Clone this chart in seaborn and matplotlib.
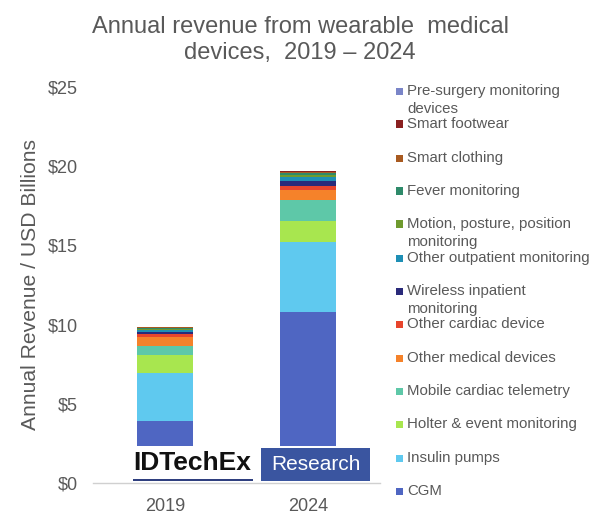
import numpy as np
import matplotlib
matplotlib.use('Agg')
import matplotlib.pyplot as plt
import matplotlib.patches as patches
import seaborn as sns

years = ['2019', '2024']

# bottom of the stack first
series = ['CGM', 'Insulin pumps', 'Holter & event monitoring', 'Mobile cardiac telemetry',
          'Other medical devices', 'Other cardiac device', 'Wireless inpatient\nmonitoring',
          'Other outpatient monitoring', 'Motion, posture, position\nmonitoring', 'Fever monitoring',
          'Smart clothing', 'Smart footwear', 'Pre-surgery monitoring\ndevices']
values_2019 = [3.91, 3.03, 1.14, 0.57, 0.55, 0.20, 0.13, 0.10, 0.07, 0.07, 0.05, 0.03, 0.02]
values_2024 = [10.80, 4.43, 1.33, 1.31, 0.63, 0.27, 0.31, 0.26, 0.11, 0.10, 0.07, 0.06, 0.02]
colours = ['#4f66c2', '#5fc9ef', '#a8e64f', '#5ec8a8', '#f5822a', '#e8452c', '#2a2a7a',
           '#1e8fb5', '#6f9a2e', '#2e8a6a', '#a85a20', '#8a2020', '#7a85c8']
yticks = [0, 5, 10, 15, 20, 25]

W, H = 600, 524
GREY = '#595959'

sns.set_style('white')
plt.rcParams['font.family'] = ['Liberation Sans', 'DejaVu Sans']

fig = plt.figure(figsize=(W/100, H/100), dpi=100)
ax = fig.add_axes([93.5/W, (H-483)/H, 286/W, 396/H])

bottom = np.zeros(2)
for i in range(len(series)):
    vals = np.array([values_2019[i], values_2024[i]])
    sns.barplot(x=years, y=vals, bottom=bottom, color=colours[i], width=0.39,
                saturation=1, linewidth=0, ax=ax)
    bottom = bottom+vals

ax.set_xlim(-0.5, 1.5)
ax.set_ylim(0, 25)
ax.set_yticks(yticks)
ax.set_yticklabels(['${}'.format(t) for t in yticks], fontsize=13, color=GREY)
ax.tick_params(axis='y', length=0, pad=11)
ax.tick_params(axis='x', length=0, pad=11, labelsize=13, labelcolor=GREY)
ax.set_ylabel('')
for s in ['top', 'left', 'right']:
    ax.spines[s].set_visible(False)
ax.spines['bottom'].set_color('#d0d0d0')
ax.spines['bottom'].set_linewidth(1)

fig.text(300/W, 1-40/H, 'Annual revenue from wearable  medical\ndevices,  2019 – 2024', ha='center', va='center',
         fontsize=17, color=GREY, linespacing=1.28)
fig.text(31/W, 1-284/H, 'Annual Revenue / USD Billions', rotation=90, ha='center', va='center',
         fontsize=15.2, color=GREY)

# legend drawn by hand, the wrapped entries overlap the next slot in the original
legend_y = [91, 124, 158, 191, 224, 258, 291, 324, 358, 391, 424, 458, 491]
for name, col, y in zip(series[::-1], colours[::-1], legend_y):
    fig.add_artist(patches.Rectangle((396/W, 1-(y+3.5)/H), 7/W, 7/H, transform=fig.transFigure,
                                     facecolor=col, edgecolor='none'))
    fig.text(407/W, 1-(y-7)/H, name, ha='left', va='top', fontsize=10.8, color=GREY, linespacing=1.32)

# logo sits on top of the bar bottoms, under the axis line
ax.add_patch(patches.Rectangle((125/W, 1-484/H), 250/W, 38/H, transform=fig.transFigure,
                               facecolor='white', edgecolor='none', zorder=2.2, clip_on=False))
fig.text(192.5/W, 1-463/H, 'IDTechEx', ha='center', va='center', fontsize=19, fontweight='bold',
         color='#111111', zorder=6)
fig.add_artist(patches.Rectangle((133/W, 1-481/H), 120/W, 2.2/H, transform=fig.transFigure,
                                 facecolor='#2f3f7f', edgecolor='none', zorder=6))
fig.add_artist(patches.Rectangle((261/W, 1-481/H), 109/W, 33/H, transform=fig.transFigure,
                                 facecolor='#3a55a0', edgecolor='none', zorder=6))
fig.text(315.5/W, 1-465/H, 'Research', ha='center', va='center', fontsize=15, color='white', zorder=7)

fig.savefig('out.png', dpi=100)
